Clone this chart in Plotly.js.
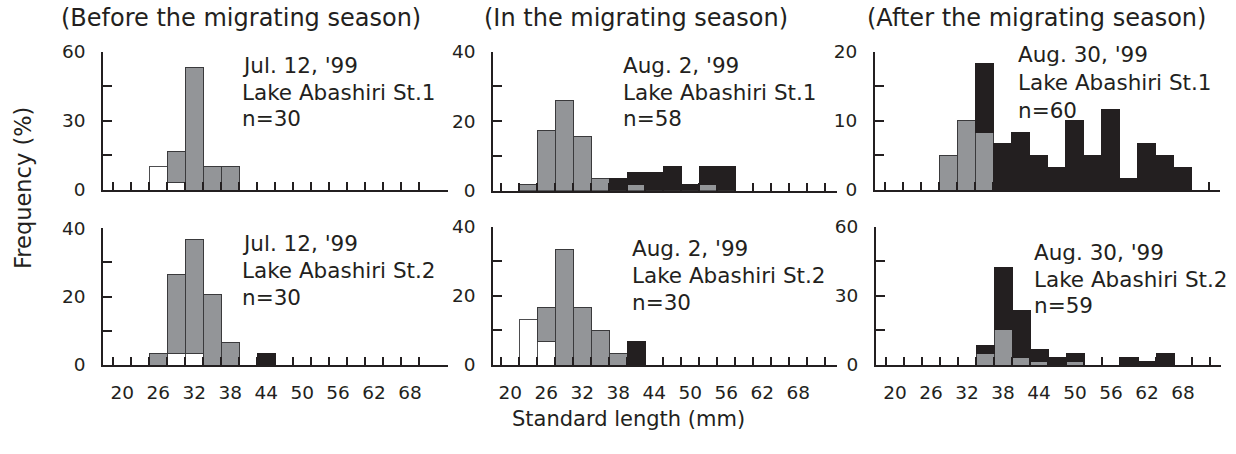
<!DOCTYPE html>
<html>
<head>
<meta charset="utf-8">
<script src="https://cdn.plot.ly/plotly-3.0.1.min.js"></script>
<style>html,body{margin:0;padding:0;background:#fff;}#chart{width:1236px;height:454px;}</style>
</head>
<body>
<div id="chart"></div>
<script>
// ---- data: standard length bins (mm, 3 mm wide, bin centres) ----
const binCenters = [20,23,26,29,32,35,38,41,44,47,50,53,56,59,62,65,68,71];
const tickLabels = [20,26,32,38,44,50,56,62,68];

// Panel 1: Jul. 12, '99  Lake Abashiri St.1  n=30
const p1White = [null,null,10,3.3,null,null,null,null,null,null,null,null,null,null,null,null,null,null];
const p1Gray  = [null,null,null,13.3,53.3,10,10,null,null,null,null,null,null,null,null,null,null,null];
const p1Black = [null,null,null,null,null,null,null,null,null,null,null,null,null,null,null,null,null,null];
// Panel 2: Aug. 2, '99  Lake Abashiri St.1  n=58
const p2White = [null,null,null,null,null,null,null,null,null,null,null,null,null,null,null,null,null,null];
const p2Gray  = [null,1.7,17.2,25.9,15.5,3.4,null,1.7,null,null,null,1.7,null,null,null,null,null,null];
const p2Black = [null,null,null,null,null,null,3.4,3.4,5.2,6.9,1.7,5.2,6.9,null,null,null,null,null];
// Panel 3: Aug. 30, '99  Lake Abashiri St.1  n=60
const p3White = [null,null,null,null,null,null,null,null,null,null,null,null,null,null,null,null,null,null];
const p3Gray  = [null,null,null,5,10,8.3,null,null,null,null,null,null,null,null,null,null,null,null];
const p3Black = [null,null,null,null,null,10,6.7,8.3,5,3.3,10,5,11.7,1.7,6.7,5,3.3,null];
// Panel 4: Jul. 12, '99  Lake Abashiri St.2  n=30
const p4White = [null,null,null,3.3,3.3,null,null,null,null,null,null,null,null,null,null,null,null,null];
const p4Gray  = [null,null,3.3,23.3,33.3,20.7,6.7,null,null,null,null,null,null,null,null,null,null,null];
const p4Black = [null,null,null,null,null,null,null,null,3.3,null,null,null,null,null,null,null,null,null];
// Panel 5: Aug. 2, '99  Lake Abashiri St.2  n=30
const p5White = [null,13.3,6.7,null,null,null,null,null,null,null,null,null,null,null,null,null,null,null];
const p5Gray  = [null,null,10,33.3,16.7,10,3.3,null,null,null,null,null,null,null,null,null,null,null];
const p5Black = [null,null,null,null,null,null,null,6.7,null,null,null,null,null,null,null,null,null,null];
// Panel 6: Aug. 30, '99  Lake Abashiri St.2  n=59
const p6White = [null,null,null,null,null,null,null,null,null,null,null,null,null,null,null,null,null,null];
const p6Gray  = [null,null,null,null,null,5.1,15.3,3.4,1.7,null,1.7,null,null,null,null,null,null,null];
const p6Black = [null,null,null,null,null,3.4,27.1,20.3,5.1,3.4,3.4,null,null,3.4,1.7,5.1,null,null];

const seasonTitles = ["(Before the migrating season)","(In the migrating season)","(After the migrating season)"];
const panelDates = ["Jul. 12, '99","Aug. 2, '99","Aug. 30, '99","Jul. 12, '99","Aug. 2, '99","Aug. 30, '99"];
const panelSites = ["Lake Abashiri St.1","Lake Abashiri St.1","Lake Abashiri St.1","Lake Abashiri St.2","Lake Abashiri St.2","Lake Abashiri St.2"];
const panelN = ["n=30","n=58","n=60","n=30","n=30","n=59"];
const yMax = [60,40,20,40,40,60];
const yTitle = "Frequency (%)";
const xTitle = "Standard length (mm)";

// ---- layout geometry (pixels) ----
const W = 1236, H = 454;
const FONT = "DejaVu Sans, Arial, sans-serif";
const INK = "#231f20";
const px = v => v / W;
const py = v => 1 - v / H;

const panels = [
  {x0:103.3, x1:448, r0:16.83, r1:74.33, y0:190,   y1:51.7,  nEdges:18},
  {x0:493.3, x1:836.7, r0:17.17, r1:74.4, y0:190.7, y1:51.7, nEdges:19},
  {x0:875,   x1:1220, r0:16.83, r1:74.33, y0:190,   y1:51.7,  nEdges:19},
  {x0:103.3, x1:448, r0:16.83, r1:74.33, y0:365,   y1:228.3, nEdges:18},
  {x0:493.3, x1:836.7, r0:17.17, r1:74.4, y0:365,   y1:226.7, nEdges:19},
  {x0:876,   x1:1221, r0:16.83, r1:74.33, y0:365,   y1:226.7, nEdges:19}
];
const textPos = [
  {x:240, y:[65,92,119]},
  {x:621, y:[65,92,119]},
  {x:1016,y:[55,83,110]},
  {x:240, y:[243,270,297]},
  {x:630, y:[248,275,302]},
  {x:1032,y:[252,279,305]}
];
const titlePos = [{x:241,y:18},{x:636,y:18},{x:1036,y:18}];

const series = [
  [p1White,p1Gray,p1Black],[p2White,p2Gray,p2Black],[p3White,p3Gray,p3Black],
  [p4White,p4Gray,p4Black],[p5White,p5Gray,p5Black],[p6White,p6Gray,p6Black]
];
const fills = ["#ffffff","#939598","#231f20"];
const lines = ["#4d4d4f","#3a3a3c","#231f20"];
const names = ["white","gray","black"];

const data = [];
const layout = {
  width: W, height: H, margin:{l:0,r:0,t:0,b:0},
  paper_bgcolor:"#fff", plot_bgcolor:"rgba(0,0,0,0)",
  barmode:"stack", bargap:0, showlegend:false,
  font:{family:FONT, color:INK},
  annotations:[]
};

panels.forEach((p,i)=>{
  const k = i+1;
  const xa = k===1 ? "x" : "x"+k;
  const ya = k===1 ? "y" : "y"+k;
  series[i].forEach((vals,j)=>{
    data.push({type:"bar", x:binCenters, y:vals, width:3, xaxis:xa, yaxis:ya, name:names[j],
      marker:{color:fills[j], line:{color:lines[j], width:1}}, hoverinfo:"skip"});
  });
  const edges = [];
  for (let e=0;e<p.nEdges;e++) edges.push(18.5+3*e);
  const bottom = i>=3;
  const xcfg = {
    domain:[px(p.x0), px(p.x1)], range:[p.r0,p.r1], anchor: ya,
    showline:true, linewidth:2, linecolor:INK, showgrid:false, zeroline:false, fixedrange:true,
    layer:"above traces"
  };
  if (bottom) {
    Object.assign(xcfg, {
      tickmode:"array", tickvals:tickLabels, ticktext:tickLabels.map(String),
      ticks:"inside", ticklen:0, tickcolor:"rgba(0,0,0,0)", showticklabels:true,
      tickfont:{family:FONT, size:18.5, color:INK}, ticklabelstandoff:10,
      minor:{tickmode:"array", tickvals:edges, ticks:"inside", ticklen:8, tickwidth:2, tickcolor:INK, showgrid:false}
    });
  } else {
    Object.assign(xcfg, {tickmode:"array", tickvals:edges, ticks:"inside", ticklen:8, tickwidth:2, tickcolor:INK, showticklabels:false});
  }
  const q = yMax[i]/4;
  const ycfg = {
    domain:[py(p.y0), py(p.y1)], range:[0,yMax[i]], anchor: xa,
    showline:true, linewidth:2, linecolor:INK, showgrid:false, zeroline:false, fixedrange:true,
    tickmode:"array", tickvals:[0,q,2*q,3*q,4*q], ticktext:["0","",String(2*q),"",String(4*q)],
    ticks:"inside", ticklen:9, tickwidth:2, tickcolor:INK,
    tickfont:{family:FONT, size:18.5, color:INK}, ticklabelstandoff:12, layer:"above traces"
  };
  layout[k===1?"xaxis":"xaxis"+k] = xcfg;
  layout[k===1?"yaxis":"yaxis"+k] = ycfg;
  const t = textPos[i];
  [panelDates[i], panelSites[i], panelN[i]].forEach((txt,m)=>{
    layout.annotations.push({xref:"paper", yref:"paper", x:px(t.x), y:py(t.y[m]), xanchor:"left", yanchor:"middle",
      text:txt, showarrow:false, font:{family:FONT, size:21.5, color:INK}});
  });
});

seasonTitles.forEach((s,i)=>{
  layout.annotations.push({xref:"paper", yref:"paper", x:px(titlePos[i].x), y:py(titlePos[i].y), xanchor:"center", yanchor:"middle",
    text:s, showarrow:false, font:{family:FONT, size:24, color:INK}});
});
layout.annotations.push({xref:"paper", yref:"paper", x:px(23), y:py(188), xanchor:"center", yanchor:"middle", textangle:-90,
  text:yTitle, showarrow:false, font:{family:FONT, size:22.5, color:INK}});
layout.annotations.push({xref:"paper", yref:"paper", x:px(628), y:py(419), xanchor:"center", yanchor:"middle",
  text:xTitle, showarrow:false, font:{family:FONT, size:21, color:INK}});

Plotly.newPlot("chart", data, layout, {staticPlot:true, displayModeBar:false});
</script>
</body>
</html>
